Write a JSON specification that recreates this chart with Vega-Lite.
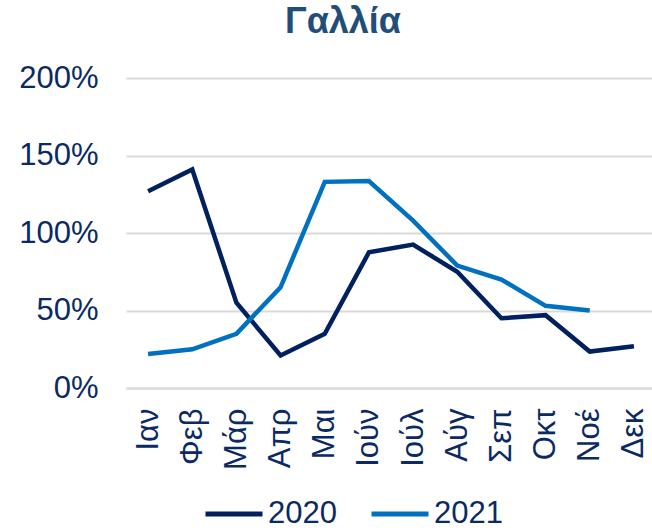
{
  "$schema": "https://vega.github.io/schema/vega-lite/v6.json",
  "autosize": "none",
  "width": 530,
  "height": 310,
  "padding": {"left": 126, "top": 78, "right": 0, "bottom": 142},
  "background": "white",
  "title": {
    "text": "Γαλλία",
    "font": "Liberation Sans",
    "fontSize": 36,
    "fontWeight": "bold",
    "color": "#1F4E79",
    "anchor": "middle",
    "dx": -48,
    "offset": 21
  },
  "config": {
    "view": {"stroke": null},
    "font": "Liberation Sans"
  },
  "data": {
    "values": [
      {"m": "Ιαν", "y": "2020", "v": 1.27},
      {"m": "Φεβ", "y": "2020", "v": 1.41},
      {"m": "Μάρ", "y": "2020", "v": 0.55},
      {"m": "Απρ", "y": "2020", "v": 0.21},
      {"m": "Μαι", "y": "2020", "v": 0.35},
      {"m": "Ιούν", "y": "2020", "v": 0.875},
      {"m": "Ιούλ", "y": "2020", "v": 0.925},
      {"m": "Αύγ", "y": "2020", "v": 0.75},
      {"m": "Σεπ", "y": "2020", "v": 0.45},
      {"m": "Οκτ", "y": "2020", "v": 0.47},
      {"m": "Νοέ", "y": "2020", "v": 0.235},
      {"m": "Δεκ", "y": "2020", "v": 0.27},
      {"m": "Ιαν", "y": "2021", "v": 0.22},
      {"m": "Φεβ", "y": "2021", "v": 0.25},
      {"m": "Μάρ", "y": "2021", "v": 0.35},
      {"m": "Απρ", "y": "2021", "v": 0.65},
      {"m": "Μαι", "y": "2021", "v": 1.33},
      {"m": "Ιούν", "y": "2021", "v": 1.335},
      {"m": "Ιούλ", "y": "2021", "v": 1.08},
      {"m": "Αύγ", "y": "2021", "v": 0.79},
      {"m": "Σεπ", "y": "2021", "v": 0.70},
      {"m": "Οκτ", "y": "2021", "v": 0.53},
      {"m": "Νοέ", "y": "2021", "v": 0.50}
    ]
  },
  "mark": {"type": "line", "strokeWidth": 4.5, "strokeJoin": "miter"},
  "encoding": {
    "x": {
      "field": "m",
      "type": "ordinal",
      "sort": ["Ιαν","Φεβ","Μάρ","Απρ","Μαι","Ιούν","Ιούλ","Αύγ","Σεπ","Οκτ","Νοέ","Δεκ"],
      "scale": {"type": "point", "padding": 0.5},
      "axis": {
        "title": null,
        "labelAngle": -90,
        "labelAlign": "right",
        "labelBaseline": "middle",
        "labelFontSize": 31,
        "labelColor": "#0B2A63",
        "labelPadding": 20,
        "ticks": false,
        "domainColor": "#D9D9D9",
        "domainWidth": 2,
        "grid": false
      }
    },
    "y": {
      "field": "v",
      "type": "quantitative",
      "scale": {"domain": [0, 2]},
      "axis": {
        "title": null,
        "values": [0, 0.5, 1, 1.5, 2],
        "format": ".0%",
        "labelFontSize": 31,
        "labelColor": "#0B2A63",
        "labelPadding": 28,
        "ticks": false,
        "domain": false,
        "gridColor": "#D9D9D9",
        "gridWidth": 2
      }
    },
    "color": {
      "field": "y",
      "type": "nominal",
      "scale": {"domain": ["2020", "2021"], "range": ["#002060", "#0070C0"]},
      "legend": {
        "title": null,
        "orient": "none",
        "direction": "horizontal",
        "legendX": 77,
        "legendY": 405,
        "symbolType": "stroke",
        "symbolSize": 3249,
        "symbolStrokeWidth": 5,
        "labelFontSize": 31,
        "labelColor": "#0B2A63",
        "labelOffset": 3,
        "columnPadding": 24,
        "symbolOffset": 0
      }
    }
  }
}
